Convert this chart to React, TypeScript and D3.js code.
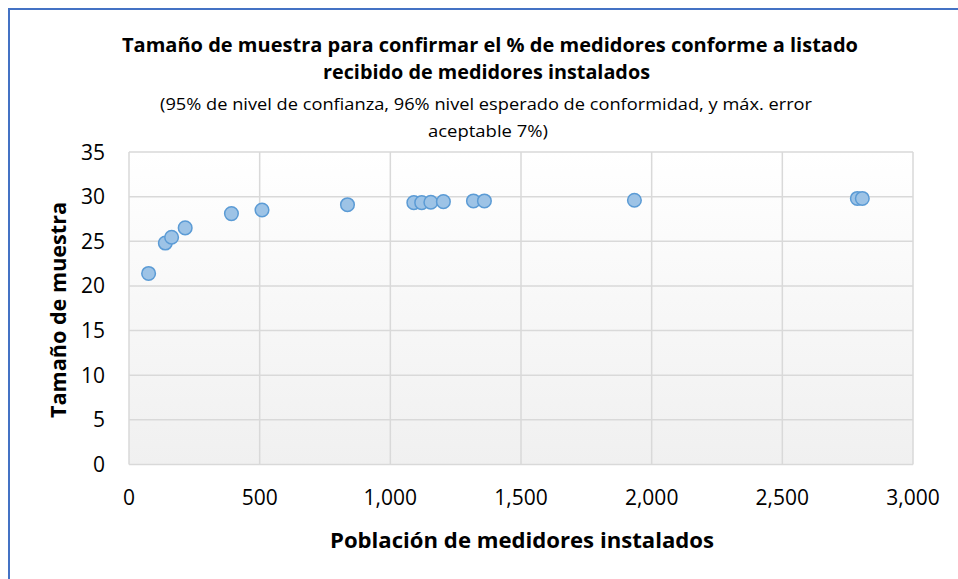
import React from 'react';
import * as d3 from 'd3';

// Población de medidores instalados (x) y tamaño de muestra (y)
const poblacion = [75, 139, 163, 215, 392, 509, 836, 1090, 1120, 1155, 1203, 1318, 1360, 1934, 2787, 2806];
const muestra = [21.4, 24.8, 25.45, 26.5, 28.1, 28.5, 29.1, 29.33, 29.33, 29.37, 29.44, 29.52, 29.52, 29.6, 29.8, 29.8];
const xTicks = [0, 500, 1000, 1500, 2000, 2500, 3000];
const yTicks = [0, 5, 10, 15, 20, 25, 30, 35];

const titleLines = [
  'Tamaño de muestra para confirmar el % de medidores conforme a listado',
  'recibido de medidores instalados',
];
const subtitleLines = [
  '(95% de nivel de confianza, 96% nivel esperado de conformidad, y máx. error',
  'aceptable 7%)',
];

const W = 958;
const H = 579;
const margin = { left: 129, right: 913, top: 152, bottom: 464.5 };
const FONT = '"Open Sans", Lato, sans-serif';

const App: React.FC = () => {
  const x = d3.scaleLinear().domain([0, 3000]).range([margin.left, margin.right]);
  const y = d3.scaleLinear().domain([0, 35]).range([margin.bottom, margin.top]);
  const fmt = d3.format(',');

  const points = poblacion.map((p, i) => ({ p, m: muestra[i] }));

  return (
    <svg
      width={W}
      height={H}
      style={{ position: 'absolute', left: 0, top: 0, display: 'block', background: '#fff' }}
    >
      <defs>
        <linearGradient id="plotBg" x1="0" y1="0" x2="0" y2="1">
          <stop offset="0%" stopColor="#ffffff" />
          <stop offset="100%" stopColor="#f0f0f0" />
        </linearGradient>
      </defs>

      {/* chart frame */}
      <rect x={9} y={9} width={W + 20} height={H + 20} fill="#fff" stroke="#4472c4" strokeWidth={2} />

      {/* plot area */}
      <rect
        x={margin.left}
        y={margin.top}
        width={margin.right - margin.left}
        height={margin.bottom - margin.top}
        fill="url(#plotBg)"
      />
      <g stroke="#d9d9d9" strokeWidth={1.5}>
        {yTicks.map(t => (
          <line key={'gy' + t} x1={margin.left} x2={margin.right} y1={y(t)} y2={y(t)} />
        ))}
        {xTicks.map(t => (
          <line key={'gx' + t} x1={x(t)} x2={x(t)} y1={margin.top} y2={margin.bottom} />
        ))}
      </g>

      {/* y tick labels */}
      <g fontFamily={FONT} fontSize={21} fill="#000" textAnchor="end">
        {yTicks.map(t => (
          <text key={'ty' + t} x={105} y={y(t) + 7.5}>{t}</text>
        ))}
      </g>

      {/* x tick labels */}
      <g fontFamily={FONT} fontSize={21} fill="#000" textAnchor="middle">
        {xTicks.map(t => (
          <text key={'tx' + t} x={x(t)} y={505}>{fmt(t)}</text>
        ))}
      </g>

      {/* markers */}
      <g>
        {points.map((d, i) => (
          <circle
            key={i}
            cx={x(d.p)}
            cy={y(d.m)}
            r={6.8}
            fill="#9dc3e6"
            stroke="#5b9bd5"
            strokeWidth={1.5}
          />
        ))}
      </g>

      {/* titles */}
      <g fontFamily={FONT} textAnchor="middle" fill="#000">
        <text x={490} y={52} fontSize={19} fontWeight="bold" textLength={736} lengthAdjust="spacingAndGlyphs">
          {titleLines[0]}
        </text>
        <text x={486.5} y={79} fontSize={19} fontWeight="bold" textLength={327} lengthAdjust="spacingAndGlyphs">
          {titleLines[1]}
        </text>
        <text x={486} y={110} fontSize={16.5} textLength={652} lengthAdjust="spacingAndGlyphs">
          {subtitleLines[0]}
        </text>
        <text x={488} y={137} fontSize={16.5} textLength={120} lengthAdjust="spacingAndGlyphs">
          {subtitleLines[1]}
        </text>
      </g>

      {/* axis titles */}
      <text
        x={522}
        y={548}
        fontFamily={FONT}
        fontSize={21}
        fontWeight="bold"
        textAnchor="middle"
        textLength={384}
        lengthAdjust="spacingAndGlyphs"
      >
        Población de medidores instalados
      </text>
      <text
        transform="translate(66, 310) rotate(-90)"
        fontFamily={FONT}
        fontSize={21}
        fontWeight="bold"
        textAnchor="middle"
        textLength={216}
        lengthAdjust="spacingAndGlyphs"
      >
        Tamaño de muestra
      </text>
    </svg>
  );
};

export default App;
